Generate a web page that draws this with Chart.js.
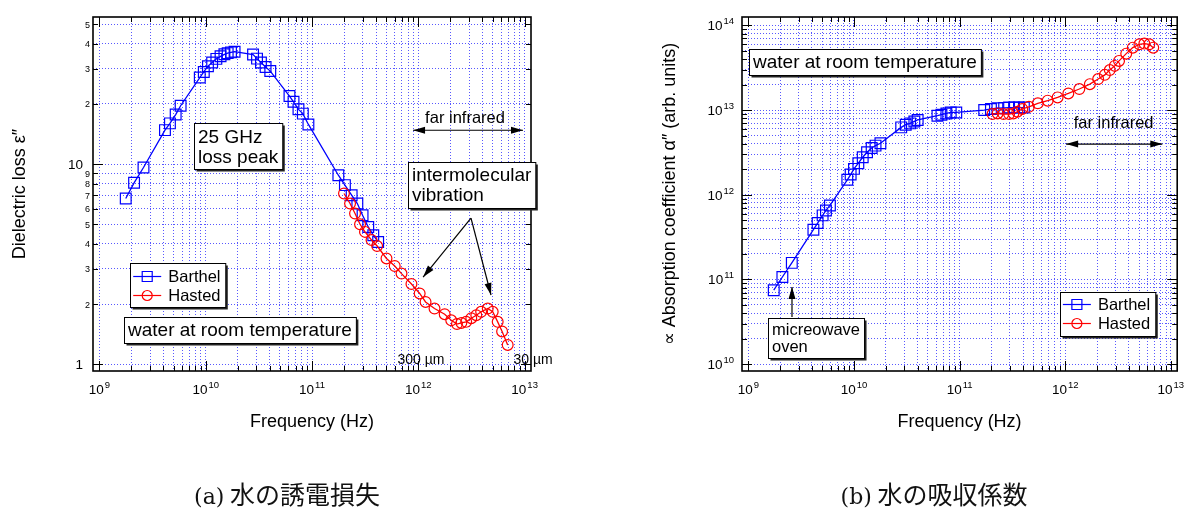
<!DOCTYPE html>
<html>
<head>
<meta charset="utf-8">
<script src="https://cdn.jsdelivr.net/npm/chart.js@4/dist/chart.umd.min.js"></script>
<style>
  html, body { margin: 0; padding: 0; background: #fff; }
  body { width: 1186px; height: 509px; position: relative; overflow: hidden; }
  canvas { position: absolute; top: 0; }
  #lossChart { left: 0; }
  #absChart { left: 593px; }
  .caption {
    position: absolute; top: 478px; transform: translateX(-50%);
    font-family: "Noto Sans CJK JP", sans-serif; font-size: 25px; line-height: 30px;
    white-space: nowrap; color: #111;
  }
  .caption .tag { font-family: "DejaVu Serif", "Liberation Serif", serif; font-size: 22px; }
  #capA { left: 287px; }
  #capB { left: 934px; }
</style>
</head>
<body>
<canvas id="lossChart" width="593" height="509"></canvas>
<canvas id="absChart" width="593" height="509"></canvas>
<div class="caption" id="capA"><span class="tag">(a)</span> 水の誘電損失</div>
<div class="caption" id="capB"><span class="tag">(b)</span> 水の吸収係数</div>
<script>
// ---- data ----
// (a) dielectric loss, Barthel (squares)
const lossBarthelFreq = [1.77e9, 2.12e9, 2.6e9, 4.14e9, 4.61e9, 5.22e9, 5.81e9, 8.8e9, 9.6e9, 1.05e10,
  1.15e10, 1.26e10, 1.38e10, 1.50e10, 1.61e10, 1.73e10, 1.87e10, 2.79e10, 3.04e10, 3.31e10,
  3.66e10, 4.05e10, 6.14e10, 6.7e10, 7.46e10, 8.2e10, 9.25e10, 1.77e11, 2.04e11, 2.36e11,
  2.67e11, 2.99e11, 3.38e11, 3.77e11, 4.19e11];
const lossBarthel = [6.74, 8.07, 9.63, 14.8, 16.0, 17.7, 19.6, 27.1, 28.9, 30.9,
  32.2, 33.6, 34.6, 35.4, 35.9, 36.2, 36.5, 35.3, 33.7, 32.2,
  30.6, 29.2, 21.9, 20.5, 18.8, 17.9, 15.8, 8.81, 7.86, 7.0,
  6.36, 5.56, 4.86, 4.42, 4.09];

// (a) dielectric loss, Hasted (circles)
const lossHastedFreq = [2.0e11, 2.28e11, 2.54e11, 2.83e11, 3.15e11, 3.63e11, 4.10e11, 5.02e11, 6.0e11,
  6.95e11, 8.62e11, 1.03e12, 1.17e12, 1.42e12, 1.77e12, 2.04e12, 2.31e12, 2.54e12,
  2.82e12, 3.15e12, 3.51e12, 3.90e12, 4.50e12, 5.01e12, 5.58e12, 6.14e12, 6.93e12];
const lossHasted = [7.14, 6.36, 5.67, 5.01, 4.59, 4.18, 3.90, 3.38, 3.10,
  2.84, 2.52, 2.26, 2.05, 1.90, 1.78, 1.66, 1.59, 1.61,
  1.63, 1.70, 1.76, 1.83, 1.90, 1.83, 1.63, 1.46, 1.25];

// (b) absorption coefficient, Barthel
const absBarthelFreq = [1.74e9, 2.10e9, 2.58e9, 4.13e9, 4.53e9, 5.05e9, 5.43e9, 5.92e9, 8.65e9, 9.3e9,
  1.0e10, 1.10e10, 1.21e10, 1.33e10, 1.47e10, 1.60e10, 1.78e10, 2.80e10, 3.09e10, 3.40e10,
  3.73e10, 4.01e10, 6.17e10, 6.73e10, 7.50e10, 8.24e10, 9.3e10, 1.71e11, 1.98e11, 2.28e11,
  2.64e11, 2.94e11, 3.28e11, 3.65e11, 4.06e11];
const absBarthel = [7.48e10, 1.07e11, 1.57e11, 3.87e11, 4.63e11, 5.71e11, 6.53e11, 7.48e11, 1.50e12, 1.73e12,
  2.02e12, 2.36e12, 2.77e12, 3.17e12, 3.57e12, 3.80e12, 4.05e12, 6.24e12, 6.71e12, 6.96e12,
  7.34e12, 7.63e12, 8.57e12, 8.81e12, 9.12e12, 9.37e12, 9.37e12, 1.0e13, 1.03e13, 1.05e13,
  1.06e13, 1.07e13, 1.07e13, 1.07e13, 1.07e13];

// (b) absorption coefficient, Hasted
const absHastedFreq = [2.05e11, 2.29e11, 2.60e11, 2.94e11, 3.23e11, 3.52e11, 3.92e11, 4.53e11, 5.50e11,
  6.82e11, 8.47e11, 1.07e12, 1.36e12, 1.71e12, 2.05e12, 2.37e12, 2.64e12, 2.94e12,
  3.23e12, 3.78e12, 4.36e12, 5.04e12, 5.61e12, 6.25e12, 6.81e12];
const absHasted = [8.97e12, 9.12e12, 8.97e12, 8.97e12, 9.12e12, 9.55e12, 1.03e13, 1.09e13, 1.20e13,
  1.29e13, 1.41e13, 1.57e13, 1.77e13, 2.02e13, 2.32e13, 2.60e13, 2.96e13, 3.32e13,
  3.80e13, 4.63e13, 5.45e13, 5.97e13, 6.08e13, 5.97e13, 5.45e13];

// tick values and labels
const freqTicks = [1e9, 2e9, 3e9, 4e9, 5e9, 6e9, 7e9, 8e9, 9e9,
  1e10, 2e10, 3e10, 4e10, 5e10, 6e10, 7e10, 8e10, 9e10,
  1e11, 2e11, 3e11, 4e11, 5e11, 6e11, 7e11, 8e11, 9e11,
  1e12, 2e12, 3e12, 4e12, 5e12, 6e12, 7e12, 8e12, 9e12, 1e13];
const lossTicks = [1, 2, 3, 4, 5, 6, 7, 8, 9, 10, 20, 30, 40, 50];
const lossTickLabels = ['1', '2', '3', '4', '5', '6', '7', '8', '9', '10', '2', '3', '4', '5'];
const absTicks = [];
[10, 11, 12, 13].forEach(e => [1, 2, 3, 4, 5, 6, 7, 8, 9].forEach(m => absTicks.push(m * Math.pow(10, e))));
absTicks.push(1e14);

// ---- styling ----
const FONT = '"Liberation Sans", Arial, Helvetica, sans-serif';
const BLUE = '#0000ff';
const RED = '#ff0000';
const GRID = 'rgba(70, 70, 255, 0.9)';

const isDecade = v => Math.abs(Math.log10(v) - Math.round(Math.log10(v))) < 1e-6;
const pairs = (xs, ys) => xs.map((x, i) => ({ x, y: ys[i] }));

// "10" with a raised exponent
function drawPower(ctx, x, y, exp, align) {
  ctx.font = `13.5px ${FONT}`;
  const wb = ctx.measureText('10').width;
  ctx.font = `9.5px ${FONT}`;
  const we = ctx.measureText(String(exp)).width;
  const left = align === 'right' ? x - wb - we - 1 : x - (wb + we + 1) / 2;
  ctx.textAlign = 'left';
  ctx.textBaseline = 'alphabetic';
  ctx.font = `13.5px ${FONT}`;
  ctx.fillText('10', left, y);
  ctx.font = `9.5px ${FONT}`;
  ctx.fillText(String(exp), left + wb + 1, y - 6);
}

// frame, inward ticks on all four sides, tick labels
const framePlugin = {
  id: 'frame',
  afterDraw(chart, args, opts) {
    const { ctx, chartArea: a } = chart;
    const xs = chart.scales.x, ys = chart.scales.y;
    ctx.save();
    ctx.strokeStyle = '#000';
    ctx.lineWidth = 1;
    ctx.beginPath();
    xs.ticks.forEach(t => {
      const p = Math.round(xs.getPixelForValue(t.value)) + 0.5;
      const len = isDecade(t.value) ? 10 : 5;
      ctx.moveTo(p, a.bottom); ctx.lineTo(p, a.bottom - len);
      ctx.moveTo(p, a.top); ctx.lineTo(p, a.top + len);
    });
    ys.ticks.forEach(t => {
      const p = Math.round(ys.getPixelForValue(t.value)) + 0.5;
      const len = isDecade(t.value) ? 10 : 5;
      ctx.moveTo(a.left, p); ctx.lineTo(a.left + len, p);
      ctx.moveTo(a.right, p); ctx.lineTo(a.right - len, p);
    });
    ctx.stroke();
    ctx.lineWidth = 1.6;
    ctx.strokeRect(a.left, a.top, a.right - a.left, a.bottom - a.top);

    ctx.fillStyle = '#000';
    xs.ticks.filter(t => isDecade(t.value)).forEach(t => {
      drawPower(ctx, xs.getPixelForValue(t.value), a.bottom + 23, Math.round(Math.log10(t.value)), 'center');
    });
    if (opts.yLabels) {
      ctx.textAlign = 'right';
      ctx.textBaseline = 'middle';
      ys.ticks.forEach((t, i) => {
        const big = isDecade(t.value);
        ctx.font = `${big ? 13.5 : 9}px ${FONT}`;
        ctx.fillText(opts.yLabels[i], a.left - (big ? 10 : 3), ys.getPixelForValue(t.value) + 1);
      });
    } else {
      ys.ticks.filter(t => isDecade(t.value)).forEach(t => {
        drawPower(ctx, a.left - 8, ys.getPixelForValue(t.value) + 5, Math.round(Math.log10(t.value)), 'right');
      });
    }
    ctx.restore();
  }
};

function shadowBox(ctx, x, y, w, h) {
  x = Math.round(x) + 0.5; y = Math.round(y) + 0.5;
  ctx.fillStyle = '#222';
  ctx.fillRect(x + 2, y + 2, w, h);
  ctx.fillStyle = '#fff';
  ctx.fillRect(x, y, w, h);
  ctx.strokeStyle = '#000';
  ctx.lineWidth = 1;
  ctx.strokeRect(x, y, w, h);
}

function arrowHead(ctx, x0, y0, x1, y1) {
  const ang = Math.atan2(y1 - y0, x1 - x0);
  const L = 12, W = 3.5;
  const c = Math.cos(ang), s = Math.sin(ang);
  ctx.beginPath();
  ctx.moveTo(x1, y1);
  ctx.lineTo(x1 - L * c + W * s, y1 - L * s - W * c);
  ctx.lineTo(x1 - L * c - W * s, y1 - L * s + W * c);
  ctx.closePath();
  ctx.fill();
}

function drawMarker(ctx, style, x, y) {
  ctx.beginPath();
  if (style === 'rect') ctx.rect(x - 5, y - 5, 10, 10);
  else ctx.arc(x, y, 5, 0, Math.PI * 2);
  ctx.stroke();
}

// text boxes, arrows, labels and the legend, placed in data coordinates
const notesPlugin = {
  id: 'notes',
  afterDraw(chart, args, opts) {
    const { ctx } = chart;
    const xs = chart.scales.x, ys = chart.scales.y;
    const P = (f, v) => [xs.getPixelForValue(f), ys.getPixelForValue(v)];
    ctx.save();

    (opts.arrows || []).forEach(ar => {
      const [x0, y0] = P(...ar.from), [x1, y1] = P(...ar.to);
      ctx.strokeStyle = '#000';
      ctx.fillStyle = '#000';
      ctx.lineWidth = 1.2;
      ctx.beginPath(); ctx.moveTo(x0, y0); ctx.lineTo(x1, y1); ctx.stroke();
      arrowHead(ctx, x0, y0, x1, y1);
      if (ar.both) arrowHead(ctx, x1, y1, x0, y0);
    });

    (opts.texts || []).forEach(t => {
      const [x, y] = P(...t.at);
      ctx.font = `${t.size}px ${FONT}`;
      ctx.fillStyle = '#000';
      ctx.textAlign = 'center';
      ctx.textBaseline = 'middle';
      ctx.fillText(t.text, x, y);
    });

    (opts.boxes || []).forEach(b => {
      const [x, y] = P(...b.at);
      ctx.font = `${b.size}px ${FONT}`;
      const w = Math.max(...b.lines.map(l => ctx.measureText(l).width)) + 2 * b.padX;
      const h = b.lines.length * b.lineH + 2 * b.padY;
      shadowBox(ctx, x, y, w, h);
      ctx.fillStyle = '#000';
      ctx.textAlign = 'left';
      ctx.textBaseline = 'middle';
      b.lines.forEach((l, i) => ctx.fillText(l, Math.round(x) + b.padX, y + b.padY + b.lineH * (i + 0.5) + 1));
    });

    if (opts.legend) {
      const [x, y] = P(...opts.legend.at);
      const items = chart.data.datasets.slice().sort((d1, d2) => d2.order - d1.order);
      const rowH = 19, padY = 3;
      ctx.font = `16.5px ${FONT}`;
      const w = 38 + Math.max(...items.map(d => ctx.measureText(d.label).width)) + 5;
      const h = items.length * rowH + 2 * padY;
      shadowBox(ctx, x, y, w, h);
      items.forEach((d, k) => {
        const cy = Math.round(y + padY + rowH * (k + 0.5)) + 0.5;
        ctx.strokeStyle = d.borderColor;
        ctx.lineWidth = 1.2;
        ctx.beginPath(); ctx.moveTo(x + 3, cy); ctx.lineTo(x + 31, cy); ctx.stroke();
        drawMarker(ctx, d.pointStyle, x + 17, cy);
        ctx.fillStyle = '#000';
        ctx.textAlign = 'left';
        ctx.textBaseline = 'middle';
        ctx.font = `16.5px ${FONT}`;
        ctx.fillText(d.label, x + 38, cy + 1);
      });
    }
    ctx.restore();
  }
};

function series(label, xs, ys, color, style, order) {
  return {
    label,
    data: pairs(xs, ys),
    order,
    showLine: true,
    borderColor: color,
    borderWidth: 1.3,
    tension: 0,
    pointStyle: style,
    pointRadius: style === 'rect' ? 7.6 : 5.4,
    pointBorderWidth: 1.2,
    pointBorderColor: color,
    pointBackgroundColor: 'rgba(0,0,0,0)'
  };
}

function logAxis(min, max, ticks, size, title) {
  return {
    type: 'logarithmic',
    min, max,
    afterBuildTicks: s => { s.ticks = ticks.map(v => ({ value: v })); },
    afterFit: s => { if (s.isHorizontal()) s.height = size; else s.width = size; },
    ticks: { display: false, autoSkip: false },
    grid: { color: GRID, lineWidth: 1, drawTicks: false },
    border: { display: false, dash: [1, 2] },
    title
  };
}

const xTitle = {
  display: true, text: 'Frequency (Hz)', color: '#000',
  font: { family: FONT, size: 18 }, padding: { top: 0, bottom: 76 }
};

function makeChart(id, cfg) {
  return new Chart(document.getElementById(id), {
    type: 'scatter',
    data: { datasets: cfg.datasets },
    plugins: [framePlugin, notesPlugin],
    options: {
      responsive: false,
      animation: false,
      events: [],
      layout: { padding: cfg.padding },
      plugins: {
        legend: { display: false },
        tooltip: { enabled: false },
        frame: cfg.frame,
        notes: cfg.notes
      },
      scales: {
        x: logAxis(Math.pow(10, 8.94), Math.pow(10, 13.06), freqTicks, 138, xTitle),
        y: cfg.y
      }
    }
  });
}

// (a) dielectric loss
makeChart('lossChart', {
  padding: { left: 0, right: 62, top: 17, bottom: 0 },
  datasets: [
    series('Barthel', lossBarthelFreq, lossBarthel, BLUE, 'rect', 1),
    series('Hasted', lossHastedFreq, lossHasted, RED, 'circle', 0)
  ],
  y: logAxis(0.926, 54.4, lossTicks, 93, {
    display: true, text: 'Dielectric loss ε″', color: '#000',
    font: { family: FONT, size: 18 }, padding: { top: 9, bottom: 0 }
  }),
  frame: { yLabels: lossTickLabels },
  notes: {
    boxes: [
      { at: [7.82e9, 16.0], lines: ['25 GHz', 'loss peak'], size: 19, lineH: 20, padX: 4, padY: 3 },
      { at: [8.02e11, 10.23], lines: ['intermolecular', 'vibration'], size: 19, lineH: 20, padX: 4, padY: 3 },
      { at: [1.72e9, 1.72], lines: ['water at room temperature'], size: 19, lineH: 20, padX: 4, padY: 3 }
    ],
    texts: [
      { at: [2.75e12, 16.97], text: 'far infrared', size: 16.5 },
      { at: [1.06e12, 1.05], text: '300 µm', size: 14 },
      { at: [1.2e13, 1.05], text: '30 µm', size: 14 }
    ],
    arrows: [
      { from: [8.93e11, 14.78], to: [9.66e12, 14.78], both: true },
      { from: [3.13e12, 5.38], to: [1.11e12, 2.73] },
      { from: [3.13e12, 5.38], to: [4.83e12, 2.22] }
    ],
    legend: { at: [1.95e9, 3.20] }
  }
});

// (b) absorption coefficient
makeChart('absChart', {
  padding: { left: 0, right: 6, top: 17, bottom: 0 },
  datasets: [
    series('Barthel', absBarthelFreq, absBarthel, BLUE, 'rect', 1),
    series('Hasted', absHastedFreq, absHasted, RED, 'circle', 0)
  ],
  y: logAxis(Math.pow(10, 9.92), Math.pow(10, 14.098), absTicks, 149, {
    display: true, text: '∝ Absorption coefficient α″ (arb. units)', color: '#000',
    font: { family: FONT, size: 18 }, padding: { top: 66, bottom: 0 }
  }),
  frame: {},
  notes: {
    boxes: [
      { at: [1.02e9, 5.22e13], lines: ['water at room temperature'], size: 19, lineH: 20, padX: 4, padY: 3 },
      { at: [1.54e9, 3.52e10], lines: ['micreowave', 'oven'], size: 16.5, lineH: 17, padX: 4, padY: 3 }
    ],
    texts: [
      { at: [2.87e12, 7.0e12], text: 'far infrared', size: 16.5 }
    ],
    arrows: [
      { from: [1.02e12, 3.96e12], to: [8.3e12, 3.96e12], both: true },
      { from: [2.59e9, 3.61e10], to: [2.59e9, 8.17e10] }
    ],
    legend: { at: [8.9e11, 7.13e10] }
  }
});
</script>
</body>
</html>
